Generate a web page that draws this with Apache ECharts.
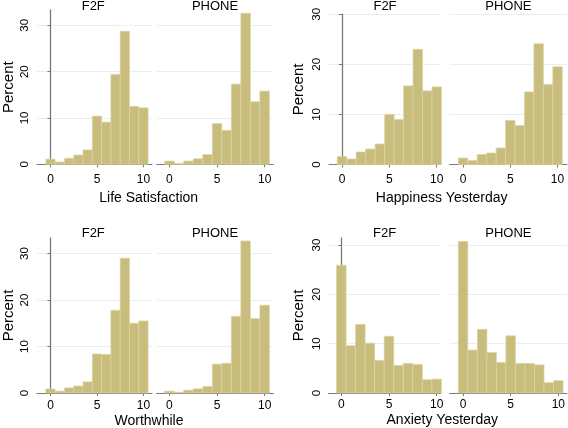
<!DOCTYPE html>
<html>
<head>
<meta charset="utf-8">
<script src="https://cdn.jsdelivr.net/npm/echarts@6/dist/echarts.min.js"></script>
<style>
html,body{margin:0;padding:0;background:#fff;}
#chart{width:568px;height:428px;}
</style>
</head>
<body>
<div id="chart"></div>
<script>
// ---- data ----
const scores = [0, 1, 2, 3, 4, 5, 6, 7, 8, 9, 10];
const modes = ['F2F', 'PHONE'];
const measures = ['Life Satisfaction', 'Happiness Yesterday', 'Worthwhile', 'Anxiety Yesterday'];
const xTicks = [0, 5, 10];
const yTicks = [0, 10, 20, 30];

const lifeF2F   = [1.1, 0.5, 1.3, 2.0, 3.1, 10.4, 9.1, 19.4, 28.7, 12.5, 12.2];
const lifePhone = [0.7, 0.2, 0.7, 1.2, 2.1, 8.8, 7.3, 17.3, 32.6, 13.5, 15.8];
const happyF2F   = [1.6, 1.1, 2.5, 3.1, 4.1, 10.0, 9.0, 15.7, 23.0, 14.7, 15.5];
const happyPhone = [1.3, 0.8, 2.0, 2.3, 3.3, 8.8, 7.8, 14.5, 24.1, 16.0, 19.5];
const worthF2F   = [0.86, 0.4, 1.1, 1.5, 2.4, 8.4, 8.3, 17.8, 29.0, 15.0, 15.5];
const worthPhone = [0.4, 0.15, 0.6, 0.9, 1.4, 6.2, 6.4, 16.5, 32.7, 16.0, 18.9];
const anxF2F   = [25.9, 9.6, 13.9, 10.1, 6.6, 11.5, 5.6, 6.0, 5.8, 2.7, 2.8];
const anxPhone = [30.7, 8.7, 12.9, 8.2, 6.2, 11.6, 6.0, 6.0, 5.7, 2.1, 2.5];

const panelValues = [
  [lifeF2F, lifePhone],
  [happyF2F, happyPhone],
  [worthF2F, worthPhone],
  [anxF2F, anxPhone]
];

// ---- layout (pixels) ----
const panels = [
  {top: 10, bottom: 164.3, ymax: 33.3, labelMargin: 9, ttl: 6.5, pct: 6,
   subs: [{L: 34.5, R: 152, min: -1.45, max: 10.92}, {L: 156.7, R: 273.3, min: -1.34, max: 10.91}], xname: 148.7, xnameY: 198},
  {top: 14.3, bottom: 164.5, ymax: 30, labelMargin: 9, ttl: 6.5, pct: 298.5,
   subs: [{L: 329, R: 441, min: -1.37, max: 10.45}, {L: 449.7, R: 567, min: -1.41, max: 11.0}], xname: 441.7, xnameY: 198},
  {top: 238, bottom: 393, ymax: 33.35, labelMargin: 7, ttl: 233.8, pct: 6,
   subs: [{L: 34.5, R: 152, min: -1.45, max: 10.92}, {L: 156.7, R: 273.3, min: -1.34, max: 10.91}], xname: 149, xnameY: 421},
  {top: 238, bottom: 393, ymax: 31.42, labelMargin: 6, ttl: 233.8, pct: 299,
   subs: [{L: 328.5, R: 440.7, min: -1.34, max: 10.42}, {L: 449.7, R: 567, min: -1.4, max: 10.91}], xname: 442.3, xnameY: 420.5}
];

const FONT = '"Liberation Sans", Arial, Helvetica, sans-serif';
const BAR = '#c8bd7c';
const BAR_EDGE = '#dcd4a4';
const AXIS = '#7a7a7a';
const GRIDC = '#e6eff1';

const grid = [], xAxis = [], yAxis = [], series = [], graphic = [];
let gi = 0;
panels.forEach((p, pi) => {
  p.subs.forEach((s, si) => {
    grid.push({left: s.L, top: p.top, width: s.R - s.L, height: p.bottom - p.top, containLabel: false});
    xAxis.push({
      type: 'value', gridIndex: gi, min: s.min, max: s.max,
      axisLine: {show: true, onZero: false, lineStyle: {color: AXIS, width: 1}},
      axisTick: {show: true, customValues: xTicks, length: 3, lineStyle: {color: AXIS}},
      axisLabel: {show: true, customValues: xTicks, margin: p.labelMargin, fontFamily: FONT, fontSize: 12, color: '#000'},
      splitLine: {show: false}
    });
    const first = si === 0;
    yAxis.push({
      type: 'value', gridIndex: gi, min: 0, max: p.ymax,
      name: first ? 'Percent' : '', nameLocation: 'middle', nameRotate: 90,
      nameGap: first ? (s.L - p.pct) : 0,
      nameTextStyle: {fontFamily: FONT, fontSize: 15, color: '#000', verticalAlign: 'middle'},
      axisLine: {show: first, lineStyle: {color: AXIS, width: 1.3}},
      axisTick: {show: first, customValues: yTicks, length: 3, lineStyle: {color: AXIS}},
      axisLabel: {show: first, customValues: yTicks, rotate: 90, margin: 6, fontFamily: FONT, fontSize: 11.5, color: '#000'},
      splitLine: {show: true, lineStyle: {color: GRIDC, width: 1}},
      interval: 10
    });
    const vals = panelValues[pi][si];
    series.push({
      type: 'custom', xAxisIndex: gi, yAxisIndex: gi,
      data: scores.map((c, i) => [c, vals[i]]),
      encode: {x: 0, y: 1},
      renderItem: function (params, api) {
        const x = api.value(0), y = api.value(1);
        const p1 = api.coord([x - 0.5, y]);
        const p2 = api.coord([x + 0.5, 0]);
        return {
          type: 'rect',
          shape: {x: p1[0], y: p1[1], width: p2[0] - p1[0], height: p2[1] - p1[1]},
          style: {fill: BAR, stroke: BAR_EDGE, lineWidth: 0.7}
        };
      }
    });
    graphic.push({
      type: 'text',
      style: {text: modes[si], font: '13px ' + FONT, fill: '#000', textAlign: 'center', textVerticalAlign: 'middle',
              x: (s.L + s.R) / 2, y: p.ttl}
    });
    gi++;
  });
  graphic.push({
    type: 'text',
    style: {text: measures[pi], font: '14px ' + FONT, fill: '#000', textAlign: 'center', textVerticalAlign: 'middle', x: p.xname, y: p.xnameY}
  });
});

const chart = echarts.init(document.getElementById('chart'), null, {renderer: 'canvas'});
chart.setOption({
  animation: false,
  backgroundColor: '#fff',
  grid, xAxis, yAxis, series, graphic
});
</script>
</body>
</html>
